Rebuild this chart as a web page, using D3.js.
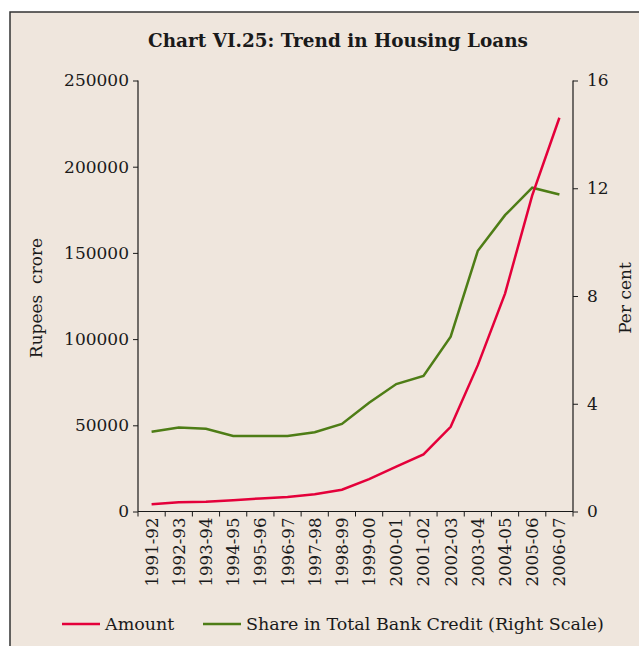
<!DOCTYPE html>
<html>
<head>
<meta charset="utf-8">
<script src="https://cdn.jsdelivr.net/npm/d3@7"></script>
<style>
  html, body { margin: 0; padding: 0; background: #fff; }
  svg { display: block; }
</style>
</head>
<body>
<svg id="chart" width="639" height="646"></svg>
<script>
const years = ["1991-92","1992-93","1993-94","1994-95","1995-96","1996-97","1997-98","1998-99",
  "1999-00","2000-01","2001-02","2002-03","2003-04","2004-05","2005-06","2006-07"];
const amount = [4200, 5300, 5700, 6500, 7600, 8400, 10000, 12600, 18800, 26000, 33100, 49100, 84900, 126400, 183400, 228400];
const share = [2.96, 3.12, 3.07, 2.80, 2.80, 2.80, 2.94, 3.25, 4.04, 4.73, 5.03, 6.49, 9.68, 11.0, 12.02, 11.77];
const leftTicks = [0, 50000, 100000, 150000, 200000, 250000];
const rightTicks = [0, 4, 8, 12, 16];

const C = { bg: "#efe6dd", red: "#e4003a", green: "#4e7d16", ink: "#1a1a1a", frame: "#333" };
const FONT = "DejaVu Serif";

const svg = d3.select("#chart");
svg.append("rect").attr("x", 10).attr("y", 12).attr("width", 640).attr("height", 650)
  .attr("fill", C.bg).attr("stroke", C.frame).attr("stroke-width", 1.5);

const m = { left: 138, right: 573, top: 80.5, bottom: 511.5 };

const x = d3.scaleBand().domain(years).range([m.left, m.right]);
const yL = d3.scaleLinear().domain([0, 250000]).range([m.bottom, m.top]);
const yR = d3.scaleLinear().domain([0, 16]).range([m.bottom, m.top]);

// fit a text's font size to a width
function fitWidth(sel, target) {
  const n = sel.node();
  const fs = parseFloat(sel.attr("font-size"));
  const w = n.getComputedTextLength();
  if (w > 0) sel.attr("font-size", (fs * target / w).toFixed(2));
}

const title = svg.append("text").attr("x", 338).attr("y", 47).attr("text-anchor", "middle")
  .attr("font-family", FONT).attr("font-weight", "bold").attr("font-size", 18)
  .attr("fill", C.ink).text("Chart VI.25: Trend in Housing Loans");
fitWidth(title, 380);

// left axis
const gL = svg.append("g").attr("transform", `translate(${m.left},0)`)
  .call(d3.axisLeft(yL).tickValues(leftTicks).tickFormat(d3.format("d")).tickSize(5).tickPadding(4));
// right axis
const gR = svg.append("g").attr("transform", `translate(${m.right},0)`)
  .call(d3.axisRight(yR).tickValues(rightTicks).tickSize(5).tickPadding(9));
// x axis: ticks at band boundaries
const gX = svg.append("g").attr("transform", `translate(0,${m.bottom})`)
  .call(d3.axisBottom(x).tickSize(0).tickPadding(6));
const bounds = years.map(d => x(d)).concat([m.right]);
gX.selectAll(".bnd").data(bounds).enter().append("line")
  .attr("x1", d => d).attr("x2", d => d).attr("y1", 0).attr("y2", 5)
  .attr("stroke", C.ink);

[gL, gR, gX].forEach(g => {
  g.selectAll("path.domain").attr("stroke", C.ink).attr("stroke-width", 1.2);
  g.selectAll("line").attr("stroke", C.ink);
  g.selectAll("text").attr("font-family", FONT).attr("font-size", 17).attr("fill", C.ink);
});
gL.select("path.domain").attr("d", `M0,${m.top}V${m.bottom}`);
gR.select("path.domain").attr("d", `M0,${m.top}V${m.bottom}`);
gX.select("path.domain").attr("d", `M${m.left},0H${m.right}`);

gX.selectAll(".tick text")
  .attr("transform", "rotate(-90)")
  .attr("text-anchor", "end")
  .attr("x", -6).attr("y", 0).attr("dy", "0.36em");
const first = gX.select(".tick text");
fitWidth(first, 69);
gX.selectAll(".tick text").attr("font-size", first.attr("font-size"));

svg.append("text").attr("transform", `translate(42,${(m.top + m.bottom) / 2 + 2}) rotate(-90)`)
  .attr("text-anchor", "middle").attr("font-family", FONT).attr("font-size", 17)
  .attr("fill", C.ink).attr("xml:space", "preserve").text("Rupees  crore");
svg.append("text").attr("transform", `translate(631,${(m.top + m.bottom) / 2 + 2}) rotate(-90)`)
  .attr("text-anchor", "middle").attr("font-family", FONT).attr("font-size", 17)
  .attr("fill", C.ink).text("Per cent");

const cx = d => x(d) + x.bandwidth() / 2;
svg.append("path").datum(share)
  .attr("fill", "none").attr("stroke", C.green).attr("stroke-width", 2.5)
  .attr("d", d3.line().x((d, i) => cx(years[i])).y(d => yR(d)));
svg.append("path").datum(amount)
  .attr("fill", "none").attr("stroke", C.red).attr("stroke-width", 2.5)
  .attr("d", d3.line().x((d, i) => cx(years[i])).y(d => yL(d)));

// legend
const legend = [
  { label: "Amount", color: C.red, x: 62 },
  { label: "Share in Total Bank Credit (Right Scale)", color: C.green, x: 203 }
];
const lg = svg.append("g").attr("transform", "translate(0,624)");
lg.selectAll("line").data(legend).enter().append("line")
  .attr("x1", d => d.x).attr("x2", d => d.x + 38).attr("y1", 0).attr("y2", 0)
  .attr("stroke", d => d.color).attr("stroke-width", 2.5);
lg.selectAll("text").data(legend).enter().append("text")
  .attr("x", d => d.x + 43).attr("y", 5.5)
  .attr("font-family", FONT).attr("font-size", 17.5).attr("fill", C.ink)
  .text(d => d.label);
</script>
</body>
</html>
